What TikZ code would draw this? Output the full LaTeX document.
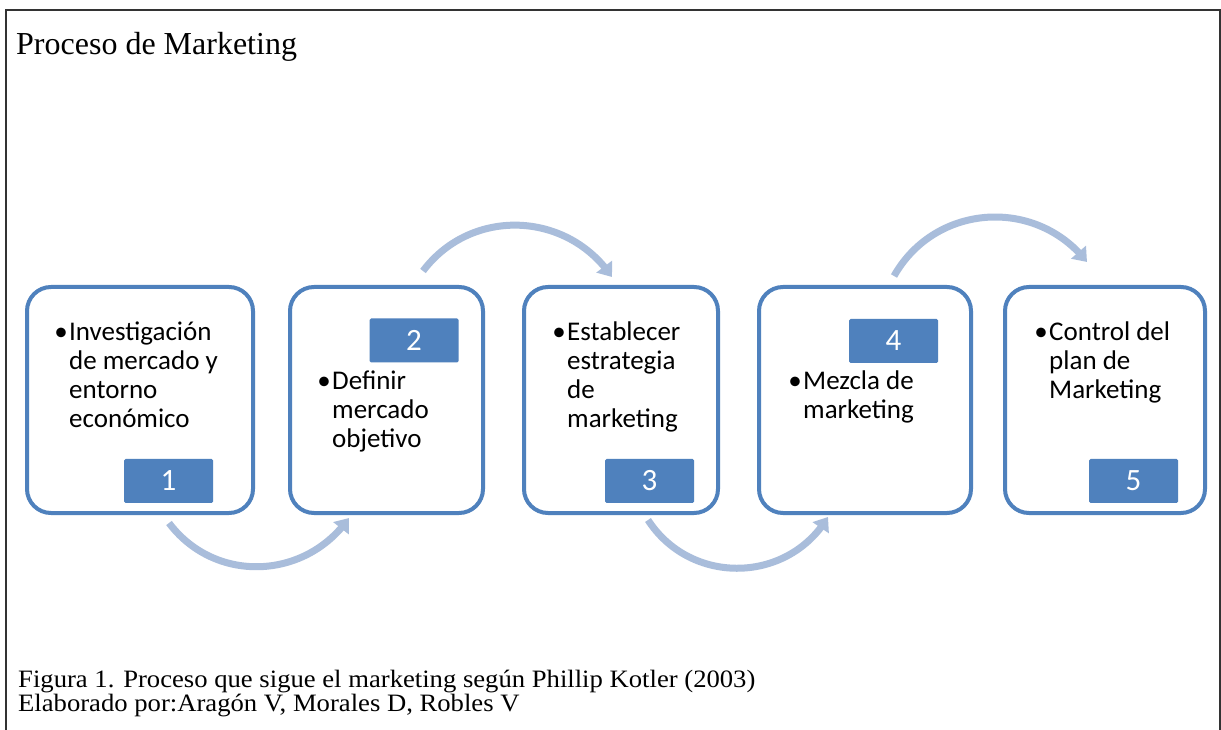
\documentclass[tikz,border=0pt]{standalone}
\usepackage{fontspec}
\setmainfont{Liberation Serif}
\newfontfamily\boxfont{Carlito}
\usetikzlibrary{arrows.meta,bending}
\definecolor{boxblue}{HTML}{4F81BD}
\definecolor{flowblue}{HTML}{A9BDDB}
\definecolor{framegray}{HTML}{333333}

\begin{document}
\begin{tikzpicture}[x=1pt,y=1pt,
  stepframe/.style={draw=boxblue, line width=4pt, rounded corners=24pt,
    rectangle, minimum height=226pt, inner sep=0},
  numtag/.style={fill=boxblue, rounded corners=1.5pt, minimum width=89pt,
    minimum height=44pt, inner sep=0, text=white,
    font=\boxfont\fontsize{31}{31}\selectfont},
  bodytext/.style={anchor=base west, inner sep=0,
    font=\boxfont\fontsize{27}{29}\selectfont},
  serifline/.style={anchor=base west, inner sep=0},
  flow/.style={draw=flowblue, line width=7pt,
    -{Triangle[width=19pt,length=13pt]}},
]
\useasboundingbox (0,0) rectangle (1221,729);
\fill[white] (0,0) rectangle (1221,729);

% outer frame (open at the bottom)
\draw[line width=2pt, framegray] (6,-5) -- (6,719) -- (1219.5,719) -- (1219.5,-5);

% title
\node[serifline, font=\fontsize{32}{32}\selectfont] (title) at (16,674) {Proceso de Marketing};

% step boxes
\node[stepframe, minimum width=226pt] (b1) at (140,329) {};
\node[stepframe, minimum width=193pt] (b2) at (386.5,329) {};
\node[stepframe, minimum width=194pt] (b3) at (621,329) {};
\node[stepframe, minimum width=212pt] (b4) at (865,329) {};
\node[stepframe, minimum width=200pt] (b5) at (1105,329) {};

% step texts (hanging bullet)
\newcommand{\bul}{\leavevmode\llap{•\hspace{1.5pt}}}
\node[bodytext] (t1) at (69,388) {\parbox[t]{180pt}{\raggedright\bul Investigación\\de mercado y\\entorno\\económico}};
\node[bodytext] (t2) at (332,339) {\parbox[t]{140pt}{\raggedright\bul Definir\\mercado\\objetivo}};
\node[bodytext] (t3) at (567,388) {\parbox[t]{140pt}{\raggedright\bul Establecer\\estrategia\\de\\marketing}};
\node[bodytext] (t4) at (803,339) {\parbox[t]{150pt}{\raggedright\bul Mezcla de\\marketing}};
\node[bodytext] (t5) at (1049,388) {\parbox[t]{150pt}{\raggedright\bul Control del\\plan de\\Marketing}};

% number tags
\node[numtag] (n1) at (168.5,248) {1};
\node[numtag] (n2) at (414,388.5) {2};
\node[numtag] (n3) at (649.5,248) {3};
\node[numtag] (n4) at (893.5,388) {4};
\node[numtag] (n5) at (1133.5,248) {5};

% curved flow arrows between the steps
\coordinate (a1s) at (169,206);  \coordinate (a1e) at (349,211);
\coordinate (a2s) at (423,458);  \coordinate (a2e) at (612,452);
\coordinate (a3s) at (648,209);  \coordinate (a3e) at (828,212);
\coordinate (a4s) at (894,453);  \coordinate (a4e) at (1087,467);
\draw[flow] (a1s) to[out=307, in=235, looseness=1.08] (a1e);
\draw[flow] (a2s) to[out=53, in=124, looseness=1.08] (a2e);
\draw[flow] (a3s) to[out=303, in=239, looseness=1.11] (a3e);
\draw[flow] (a4s) to[out=60.5, in=128, looseness=1.1] (a4e);

% caption
\node[serifline, font=\fontsize{25}{25}\selectfont] (cap1) at (18,42)
  {\scalebox{1.066}[1]{Figura 1. Proceso que sigue el marketing según Phillip Kotler (2003)}};
\node[serifline, font=\fontsize{25}{25}\selectfont] (cap2) at (18,18)
  {\scalebox{1.066}[1]{Elaborado por:Aragón V, Morales D, Robles V}};
\end{tikzpicture}
\end{document}
